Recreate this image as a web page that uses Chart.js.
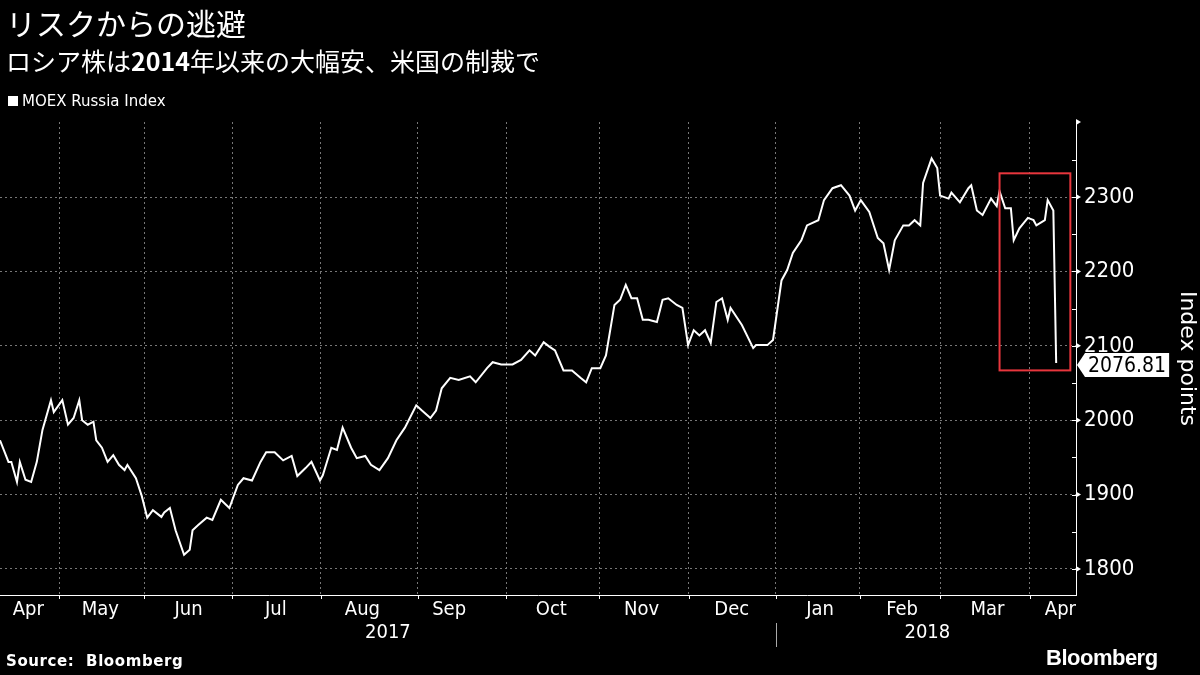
<!DOCTYPE html>
<html><head><meta charset="utf-8">
<script src="https://cdn.jsdelivr.net/npm/chart.js@4"></script>
<style>
html,body{margin:0;padding:0;background:#000;width:1200px;height:675px;overflow:hidden;font-family:"Noto Sans CJK JP","Noto Sans",sans-serif;color:#fff}
#wrap{position:absolute;left:0;top:0;width:1200px;height:675px}
.t{position:absolute;white-space:nowrap}
</style></head><body>
<div id="wrap"><canvas id="c" width="1200" height="675"></canvas></div>
<div class="t" style="left:6px;top:0px;font-size:30px;">リスクからの逃避</div>
<div class="t" style="left:6px;top:42px;font-size:25px;">ロシア株は<b>2014</b>年以来の大幅安、米国の制裁で</div>
<div class="t" style="left:8px;top:92px;font-size:15px;font-family:'DejaVu Sans';"><span style="display:inline-block;width:10px;height:10px;background:#fff;margin-right:4px"></span>MOEX Russia Index</div>
<div class="t" style="left:6px;top:652px;font-size:15px;font-weight:bold;font-family:'DejaVu Sans';letter-spacing:0.6px">Source:&nbsp;&nbsp;Bloomberg</div>
<div class="t" style="left:1046px;top:645px;font-size:22px;font-weight:bold;font-family:'Liberation Sans';letter-spacing:-0.5px">Bloomberg</div>
<script>
const days=[0,3,4,6,7,9,11,13,15,18,19,22,24,26,28,29,31,33,34,36,38,40,42,44,45,48,50,52,54,57,58,60,62,65,67,68,70,73,75,78,81,84,86,89,92,94,97,100,103,105,108,110,113,114,117,119,121,124,126,129,131,134,137,140,143,147,149,152,154,156,159,162,166,168,172,174,177,181,184,187,189,192,194,196,199,202,205,207,209,212,214,217,219,221,223,225,227,229,232,234,236,239,241,243,245,247,249,251,253,255,257,258,262,266,267,271,273,276,278,280,283,285,289,291,294,297,300,302,304,307,310,312,314,316,319,321,323,325,326,329,331,332,335,336,339,342,343,345,347,350,352,353,355,357,358,360,363,365,366,369,370,372,373];
const values=[1973,1944,1944,1917,1944,1920,1917,1944,1987,2027,2011,2027,1994,2003,2027,2000,1994,1998,1973,1963,1944,1953,1940,1933,1940,1922,1899,1869,1879,1870,1876,1882,1852,1819,1826,1852,1859,1869,1866,1893,1882,1913,1922,1919,1944,1957,1957,1946,1952,1925,1936,1944,1919,1926,1963,1960,1990,1963,1949,1952,1940,1933,1949,1973,1990,2020,2013,2003,2013,2043,2057,2054,2059,2051,2070,2078,2075,2075,2081,2094,2087,2105,2099,2094,2067,2067,2057,2051,2070,2070,2087,2155,2162,2182,2164,2164,2135,2135,2132,2162,2164,2155,2151,2101,2121,2114,2121,2104,2159,2164,2135,2151,2128,2097,2101,2101,2108,2188,2202,2225,2242,2262,2269,2296,2312,2316,2302,2282,2296,2280,2245,2238,2202,2242,2262,2262,2269,2262,2319,2352,2339,2302,2298,2306,2293,2312,2316,2282,2276,2298,2288,2308,2285,2285,2242,2258,2272,2269,2262,2269,2296,2282,2076.81];
const monthBounds=[20.9,51,82.1,113.3,147.6,178.8,211.7,243.2,274,303.7,332,363.6];
const monthLabels=["Apr","May","Jun","Jul","Aug","Sep","Oct","Nov","Dec","Jan","Feb","Mar","Apr"];
const monthCenters=[10,35.4,66.6,97.4,128,158.6,194.7,226.6,258.4,289.6,318.6,348.7,374.5];
const yearLabels=["2017","2018"];
const yearCenters=[137,327.5];
const yearBound=274;
const yTicks=[1800,1900,2000,2100,2200,2300];
const yMinor=[1800,1850,1900,1950,2000,2050,2100,2150,2200,2250,2300,2350];
const lastLabel="2076.81";
const boxRange={x0:353,x1:378,y0:2067,y1:2332};
const FONT='"DejaVu Sans Condensed","DejaVu Sans"';

const overlay={id:'ov',afterDraw(ch){
 const c=ch.ctx,x=ch.scales.x,y=ch.scales.y,a=ch.chartArea;
 c.save();
 c.fillStyle='#fff';c.font='20px '+FONT;c.textAlign='center';c.textBaseline='top';
 monthLabels.forEach((m,i)=>c.fillText(m,x.getPixelForValue(monthCenters[i]),a.bottom+5));
 yearLabels.forEach((m,i)=>c.fillText(m,x.getPixelForValue(yearCenters[i]),a.bottom+28));
 c.strokeStyle='#aaa';c.lineWidth=1;
 const yb=Math.round(x.getPixelForValue(yearBound))+0.5;
 c.beginPath();c.moveTo(yb,a.bottom+28);c.lineTo(yb,a.bottom+52);c.stroke();
 c.strokeStyle='#fff';
 monthBounds.forEach(d=>{const p=Math.round(x.getPixelForValue(d))+0.5;c.beginPath();c.moveTo(p,a.bottom);c.lineTo(p,a.bottom+4);c.stroke();});
 yMinor.forEach(v=>{const p=Math.round(y.getPixelForValue(v))+0.5;c.beginPath();c.moveTo(a.right-4,p);c.lineTo(a.right,p);c.stroke();});
 c.fillStyle='#fff';
 yTicks.forEach(v=>{const p=y.getPixelForValue(v);c.beginPath();c.moveTo(a.right,p-3);c.lineTo(a.right+5,p);c.lineTo(a.right,p+3);c.fill();});
 c.strokeStyle='#e8363d';c.lineWidth=2;
 const bx0=x.getPixelForValue(boxRange.x0),bx1=x.getPixelForValue(boxRange.x1),by0=y.getPixelForValue(boxRange.y1),by1=y.getPixelForValue(boxRange.y0);
 c.strokeRect(bx0,by0,bx1-bx0,by1-by0);
 const ly=y.getPixelForValue(values[values.length-1])+2;
 c.font='21px '+FONT;
 const w=c.measureText(lastLabel).width+6;
 const lx=a.right+9;
 c.fillStyle='#fff';c.beginPath();c.moveTo(a.right+1,ly);c.lineTo(lx,ly-12);c.lineTo(lx+w,ly-12);c.lineTo(lx+w,ly+12);c.lineTo(lx,ly+12);c.closePath();c.fill();
 c.fillStyle='#000';c.textAlign='left';c.textBaseline='middle';c.fillText(lastLabel,lx+3,ly+1);
 c.fillStyle='#fff';c.beginPath();c.moveTo(a.right,a.top-3);c.lineTo(a.right+5,a.top);c.lineTo(a.right,a.top+3);c.fill();
 c.restore();
}};

new Chart(document.getElementById('c'),{
 type:'line',
 data:{datasets:[{data:days.map((d,i)=>({x:d,y:values[i]})),borderColor:'#fff',borderWidth:2,pointRadius:0,tension:0}]},
 options:{responsive:false,animation:false,
  layout:{padding:{top:122,left:0,right:0,bottom:0}},
  plugins:{legend:{display:false},tooltip:{enabled:false}},
  scales:{
   x:{type:'linear',min:0,max:380,
     afterBuildTicks(s){s.ticks=monthBounds.map(v=>({value:v}));},
     afterFit(s){s.height=80;},
     ticks:{display:false},
     grid:{color:'#777',drawTicks:false},
     border:{display:true,color:'#fff',dash:[2,3]}},
   y:{position:'right',min:1765,max:2401,
     afterBuildTicks(s){s.ticks=yTicks.map(v=>({value:v}));},
     afterFit(s){s.width=124;},
     ticks:{color:'#fff',font:{size:22,family:FONT},padding:8,callback:v=>String(v)},
     grid:{color:'#777',drawTicks:false},
     border:{display:true,color:'#fff',dash:[2,3]},
     title:{display:true,text:'Index points',color:'#fff',font:{size:22,family:'"DejaVu Sans"'},padding:{top:0,bottom:2}}}
  }
 },
 plugins:[overlay]
});
</script>
</body></html>
